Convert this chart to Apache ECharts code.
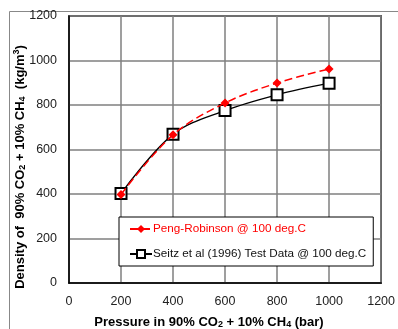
<!DOCTYPE html>
<html><head><meta charset="utf-8">
<script src="https://cdn.jsdelivr.net/npm/echarts@6/dist/echarts.min.js"></script>
<style>html,body{margin:0;padding:0;background:#fff}#c{width:398px;height:329px}</style>
</head><body><div id="c"></div>
<script>
var pressure = [200, 400, 600, 800, 1000];
var pengRobinson = [398, 666, 809, 899, 962];
var seitz = [402, 668, 775, 846, 898];
var xTicks = [0, 200, 400, 600, 800, 1000, 1200];
var yTicks = [0, 200, 400, 600, 800, 1000, 1200];
var names = ['Peng-Robinson @ 100 deg.C', 'Seitz et al (1996) Test Data @ 100 deg.C'];

var chart = echarts.init(document.getElementById('c'), null, {renderer: 'canvas'});
var font = 'Liberation Sans, Arial, sans-serif';
chart.setOption({
  animation: false,
  textStyle: {fontFamily: font},
  grid: {left: 69, right: 11, top: 16, bottom: 46, show: true, borderColor: '#000', borderWidth: 1.5},
  xAxis: {type: 'value', min: 0, max: 1200, interval: 200,
    axisLine: {show: true, onZero: false, lineStyle: {color: '#000', width: 1.5}},
    axisTick: {show: false},
    axisLabel: {color: '#222', fontSize: 12.5, margin: 12, fontFamily: font, formatter: function (v) { return String(v); }},
    splitLine: {show: true, lineStyle: {color: '#7f7f7f', width: 1.5}}},
  yAxis: {type: 'value', min: 0, max: 1200, interval: 200,
    axisLine: {show: true, lineStyle: {color: '#000', width: 1.5}},
    axisTick: {show: false},
    axisLabel: {color: '#222', fontSize: 12.5, margin: 12, fontFamily: font, formatter: function (v) { return String(v); }},
    splitLine: {show: true, lineStyle: {color: '#7f7f7f', width: 1.5}}},
  legend: {orient: 'vertical', left: 119, top: 217, 
    backgroundColor: '#fff', borderColor: '#000', borderWidth: 1,
    padding: [6, 7, 6, 10], itemGap: 13, itemWidth: 22, itemHeight: 10,
    data: [{name: names[0], textStyle: {color: '#ff0000'}}, {name: names[1], textStyle: {color: '#111'}}],
    textStyle: {fontSize: 11.7, fontFamily: font, padding: [0, 0, 0, -4]}},
  graphic: [
    {type: 'rect', left: 7, top: 9, shape: {width: 400, height: 330}, style: {fill: 'none', stroke: '#888', lineWidth: 1}, silent: true},
    {type: 'text', x: 20, y: 167, rotation: Math.PI / 2, style: {
      text: '{b|Density of  90% CO}{s|2}{b| + 10% CH}{s|4}{b|  (kg/m}{u|3}{b|)}',
      align: 'center', verticalAlign: 'middle',
      rich: {b: {fontSize: 13, fontWeight: 'bold', fontFamily: font, fill: '#000'},
             s: {fontSize: 9, fontWeight: 'bold', fontFamily: font, fill: '#000', verticalAlign: 'bottom', padding: [6, 0, 0, 0]},
             u: {fontSize: 9, fontWeight: 'bold', fontFamily: font, fill: '#000', verticalAlign: 'top', padding: [0, 0, 6, 0]}}}},
    {type: 'text', x: 209, y: 322, style: {
      text: '{b|Pressure in 90% CO}{s|2}{b| + 10% CH}{s|4}{b| (bar)}',
      align: 'center', verticalAlign: 'middle',
      rich: {b: {fontSize: 13, fontWeight: 'bold', fontFamily: font, fill: '#000'},
             s: {fontSize: 9, fontWeight: 'bold', fontFamily: font, fill: '#000', verticalAlign: 'bottom', padding: [6, 0, 0, 0]}}}}
  ],
  series: [
    {name: names[1], type: 'line', smooth: 0.35, data: pressure.map(function (p, i) { return [p, seitz[i]]; }),
      symbol: 'rect', symbolSize: 11, lineStyle: {color: '#000', width: 1.3},
      itemStyle: {color: '#fff', borderColor: '#000', borderWidth: 2}, z: 3},
    {name: names[0], type: 'line', smooth: 0.35, data: pressure.map(function (p, i) { return [p, pengRobinson[i]]; }),
      symbol: 'diamond', symbolSize: 9, lineStyle: {color: '#ff0000', width: 1.5, type: [8, 4]},
      itemStyle: {color: '#ff0000'}, z: 4}
  ]
});
</script></body></html>
